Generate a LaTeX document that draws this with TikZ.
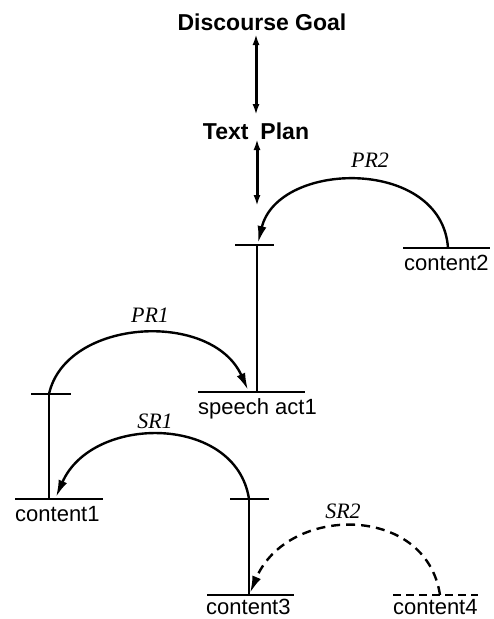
\documentclass[tikz,border=0pt]{standalone}
\usepackage{fontspec}
\setmainfont{Liberation Sans}
\newfontfamily\lblfont{Liberation Serif}
\usetikzlibrary{arrows.meta}
\begin{document}
\begin{tikzpicture}[x=1pt,y=-1pt,
  bar/.style={line width=2.4pt},
  stem/.style={line width=2.1pt},
  rel/.style={line width=2.4pt,-{Latex[length=17pt,width=9pt]}},
  drel/.style={rel,dash pattern=on 9pt off 6pt},
  dbl/.style={line width=3pt,{Latex[length=11pt,width=7pt]}-{Latex[length=11pt,width=7pt]}},
  txt/.style={font=\fontsize{22}{24}\selectfont, inner sep=0pt},
  title/.style={font=\bfseries\fontsize{23}{26}\selectfont, inner sep=0pt},
  lab/.style={font=\lblfont\itshape\fontsize{22}{24}\selectfont, inner sep=0pt}]
\useasboundingbox (0,0) rectangle (494,619);
% titles
\node[title] (goal) at (262,22) {Discourse Goal};
\node[title] (plan) at (256,131) {Text\hspace{12pt}Plan};
\coordinate (g1) at (256,34);
\coordinate (g2) at (256,115);
\coordinate (p1) at (257,139);
\coordinate (p2) at (257,206);
\draw[dbl] (g1) -- (g2);
\draw[dbl] (p1) -- (p2);
% bars (coordinates)
\coordinate (tA) at (257,245);   % top tick on speech act stem
\coordinate (sa) at (257,392);   % speech act bar attach
\coordinate (c2) at (448,248);   % content2 attach
\coordinate (tB) at (49,394);    % left tick
\coordinate (c1) at (49,499);    % content1 bar attach
\coordinate (tC) at (249,499);   % right tick
\coordinate (c3) at (249,595);   % content3 attach
\coordinate (c4) at (440,595);   % content4 attach
% ticks
\draw[bar] (235,245) -- (274,245);
\draw[bar] (31,394) -- (71,394);
\draw[bar] (230,499) -- (269,499);
% bars under/over texts
\draw[bar] (198,392) -- (305,392);
\draw[bar] (403,248) -- (490,248);
\draw[bar] (15,499) -- (103,499);
\draw[bar] (207,595) -- (294,595);
\draw[bar,dash pattern=on 8pt off 5pt] (393,595) -- (478,595);
% texts
\node[txt,anchor=base west] (tsa) at (198,414) {speech act1};
\node[txt,anchor=base west] (tc2) at (404,270) {content2};
\node[txt,anchor=base west] (tc1) at (15,521) {content1};
\node[txt,anchor=base west] (tc3) at (206,614) {content3};
\node[txt,anchor=base west] (tc4) at (393,614) {content4};
% stems
\draw[stem] (tA) -- (sa);
\draw[stem] (tB) -- (c1);
\draw[stem] (tC) -- (c3);
% relation arcs
\draw[rel] (c2) .. controls (442,157) and (278,160) .. (258,243);
\draw[rel] (tB) .. controls (66,318) and (212,310) .. (248,390);
\draw[rel] (tC) .. controls (236,414) and (92,414) .. (56,497);
\draw[drel] (c4) .. controls (426,503) and (287,505) .. (250,593);
% labels
\node[lab] (pr2) at (370,160) {PR2};
\node[lab] (pr1) at (150,315) {PR1};
\node[lab] (sr1) at (155,421) {SR1};
\node[lab] (sr2) at (343,511) {SR2};
\end{tikzpicture}
\end{document}
